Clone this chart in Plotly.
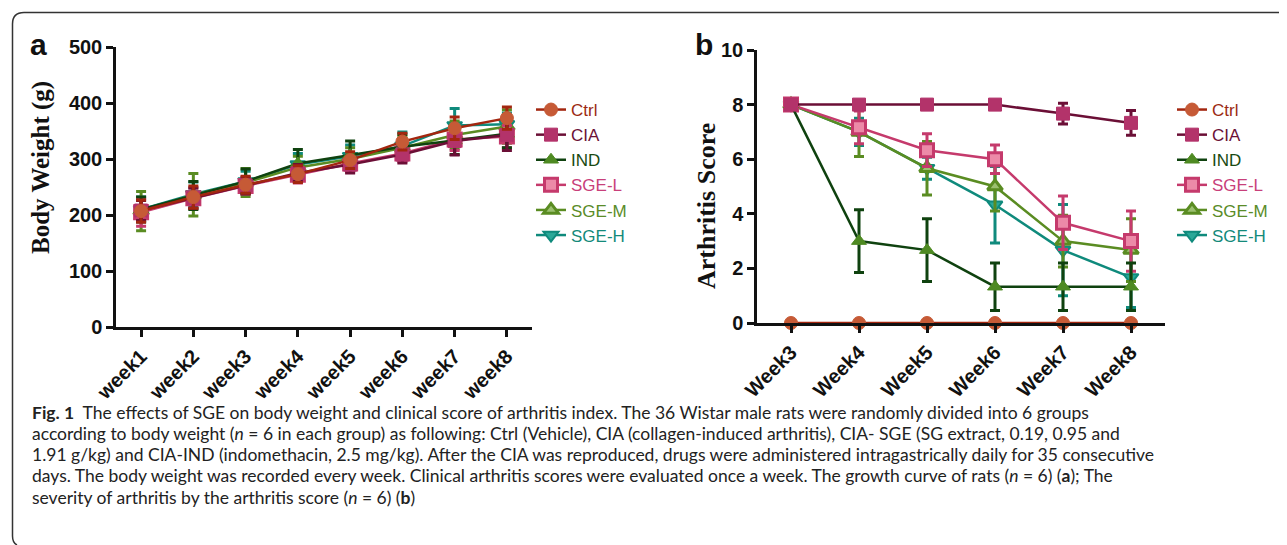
import plotly.graph_objects as go

W, H = 1287, 545
OX, OY = 8, 8  # page body offset compensation

groups = ["Ctrl", "CIA", "IND", "SGE-L", "SGE-M", "SGE-H"]

# Panel a: body weight (g)
weeks_a = ["week1", "week2", "week3", "week4", "week5", "week6", "week7", "week8"]
bw_ctrl = [207, 232, 254, 273, 298, 331, 355, 373]
bw_cia = [208, 230, 253, 275, 290, 308, 332, 343]
bw_ind = [210, 235, 260, 292, 307, 322, 333, 345]
bw_sgel = [205, 230, 252, 272, 292, 310, 335, 340]
bw_sgem = [207, 236, 258, 285, 300, 320, 343, 358]
bw_sgeh = [210, 237, 260, 290, 305, 323, 360, 362]
bw_ctrl_err = [20, 20, 15, 15, 15, 15, 20, 20]
bw_cia_err = [18, 18, 15, 15, 15, 15, 25, 28]
bw_ind_err = [22, 25, 22, 25, 25, 22, 25, 25]
bw_sgel_err = [25, 18, 15, 15, 15, 15, 20, 20]
bw_sgem_err = [35, 38, 25, 20, 20, 20, 25, 30]
bw_sgeh_err = [22, 22, 18, 20, 20, 25, 30, 20]

# Panel b: arthritis score
weeks_b = ["Week3", "Week4", "Week5", "Week6", "Week7", "Week8"]
as_ctrl = [0, 0, 0, 0, 0, 0]
as_cia = [8, 8, 8, 8, 7.67, 7.33]
as_ind = [8, 3, 2.67, 1.33, 1.33, 1.33]
as_sgel = [8, 7.17, 6.33, 6, 3.67, 3]
as_sgem = [8, 7, 5.67, 5, 3, 2.67]
as_sgeh = [8, 7, 5.67, 4.33, 2.67, 1.67]
as_ctrl_err = [0, 0, 0, 0, 0, 0]
as_cia_err = [0, 0, 0, 0, 0.38, 0.45]
as_ind_err = [0, 1.15, 1.15, 0.87, 0.87, 0.87]
as_sgel_err = [0, 0.6, 0.6, 0.52, 0.98, 1.1]
as_sgem_err = [0, 0.9, 0.98, 0.9, 0.95, 1.15]
as_sgeh_err = [0, 0.5, 0.4, 1.4, 1.67, 1.1]

styles = {
    "Ctrl": dict(line="#a3260f", symbol="circle", fill="#c65a36", mline="#c65a36", mw=1, text="#9b2a12"),
    "CIA": dict(line="#6b0f36", symbol="square", fill="#b3336a", mline="#b3336a", mw=1, text="#6b0f36"),
    "IND": dict(line="#0f420f", symbol="triangle-up", fill="#4e8a22", mline="#4e8a22", mw=1, text="#1a4a12"),
    "SGE-L": dict(line="#c53a6c", symbol="square", fill="#ec8aa8", mline="#c53a6c", mw=3, text="#c8407a"),
    "SGE-M": dict(line="#5a8c22", symbol="triangle-up", fill="#9cc070", mline="#5a8c22", mw=3, text="#5a8c28"),
    "SGE-H": dict(line="#0f8a7c", symbol="triangle-down", fill="#2aa898", mline="#0f8a7c", mw=2, text="#138a7a"),
}

a_vals = dict(zip(groups, [bw_ctrl, bw_cia, bw_ind, bw_sgel, bw_sgem, bw_sgeh]))
a_errs = dict(zip(groups, [bw_ctrl_err, bw_cia_err, bw_ind_err, bw_sgel_err, bw_sgem_err, bw_sgeh_err]))
b_vals = dict(zip(groups, [as_ctrl, as_cia, as_ind, as_sgel, as_sgem, as_sgeh]))
b_errs = dict(zip(groups, [as_ctrl_err, as_cia_err, as_ind_err, as_sgel_err, as_sgem_err, as_sgeh_err]))

draw_order = ["SGE-H", "SGE-M", "SGE-L", "IND", "CIA", "Ctrl"]

fig = go.Figure()

for panel, xs, vals, errs, xa, ya, leg in [
    ("a", weeks_a, a_vals, a_errs, "x", "y", "legend"),
    ("b", weeks_b, b_vals, b_errs, "x2", "y2", "legend2"),
]:
    for g in draw_order:
        s = styles[g]
        fig.add_trace(go.Scatter(
            x=xs, y=vals[g], xaxis=xa, yaxis=ya,
            mode="lines+markers",
            name=f"<span style='color:{s['text']}'>{g}</span>",
            legend=leg, legendrank=groups.index(g) + 1,
            line=dict(color=s["line"], width=2.5),
            marker=dict(symbol=s["symbol"], size=13, color=s["fill"],
                        line=dict(color=s["mline"], width=s["mw"])),
            error_y=dict(type="data", array=errs[g], visible=True,
                         color=s["line"], thickness=3, width=5),
            cliponaxis=False,
        ))

def px_x(p):
    return (p - OX) / W

def px_y(p):
    return 1 - (p - OY) / H

tickfont = dict(family="Liberation Sans, Arial", size=20, color="#111", weight="bold")
axis_common = dict(showline=True, linecolor="#111", linewidth=2.5, ticks="outside",
                   ticklen=7, tickwidth=2.5, tickcolor="#111", showgrid=False,
                   zeroline=False, tickfont=tickfont, automargin=False)

fig.update_layout(
    width=W, height=H,
    margin=dict(l=0, r=0, t=0, b=0, pad=0, autoexpand=False),
    paper_bgcolor="white", plot_bgcolor="white",
    xaxis=dict(domain=[px_x(116), px_x(532)], anchor="y", type="category",
               range=[-0.48, 7.48], tickangle=-45, **axis_common),
    yaxis=dict(domain=[px_y(327), px_y(47)], anchor="x", range=[0, 500],
               tickvals=[0, 100, 200, 300, 400, 500], **axis_common),
    xaxis2=dict(domain=[px_x(757), px_x(1165)], anchor="y2", type="category",
                range=[-0.5, 5.5], tickangle=-45, **axis_common),
    yaxis2=dict(domain=[px_y(323), px_y(50)], anchor="x2", range=[0, 10],
                tickvals=[0, 2, 4, 6, 8, 10], **axis_common),
    legend=dict(x=px_x(531), y=px_y(92), xanchor="left", yanchor="top",
                font=dict(family="Liberation Sans, Arial", size=17),
                bgcolor="rgba(0,0,0,0)", tracegroupgap=2, itemwidth=30),
    legend2=dict(x=px_x(1172), y=px_y(92), xanchor="left", yanchor="top",
                 font=dict(family="Liberation Sans, Arial", size=17),
                 bgcolor="rgba(0,0,0,0)", tracegroupgap=2, itemwidth=30),
    showlegend=True,
)

annotations = [
    dict(text="a", x=px_x(38), y=px_y(45), font=dict(family="Liberation Sans, Arial", size=30, color="#111", weight="bold")),
    dict(text="b", x=px_x(704), y=px_y(44), font=dict(family="Liberation Sans, Arial", size=30, color="#111", weight="bold")),
    dict(text="Body Weight (g)", x=px_x(41), y=px_y(168), textangle=-90,
         font=dict(family="Liberation Serif, Times New Roman", size=25, color="#111", weight="bold")),
    dict(text="Arthritis Score", x=px_x(706), y=px_y(206), textangle=-90,
         font=dict(family="Liberation Serif, Times New Roman", size=26, color="#111", weight="bold")),
]
for a in annotations:
    a.update(xref="paper", yref="paper", showarrow=False, xanchor="center", yanchor="middle")

caption_lines = [
    "<b>Fig. 1</b>  The effects of SGE on body weight and clinical score of arthritis index. The 36 Wistar male rats were randomly divided into 6 groups",
    "according to body weight (<i>n</i> = 6 in each group) as following: Ctrl (Vehicle), CIA (collagen-induced arthritis), CIA- SGE (SG extract, 0.19, 0.95 and",
    "1.91 g/kg) and CIA-IND (indomethacin, 2.5 mg/kg). After the CIA was reproduced, drugs were administered intragastrically daily for 35 consecutive",
    "days. The body weight was recorded every week. Clinical arthritis scores were evaluated once a week. The growth curve of rats (<i>n</i> = 6) (<b>a</b>); The",
    "severity of arthritis by the arthritis score (<i>n</i> = 6) (<b>b</b>)",
]
cap_y = [412, 433, 454, 475, 497]
for line, yy in zip(caption_lines, cap_y):
    annotations.append(dict(text=line, x=px_x(30), y=px_y(yy), xref="paper", yref="paper",
                            showarrow=False, xanchor="left", yanchor="middle",
                            font=dict(family="Lato, Open Sans", size=17.5, color="#222")))

fig.update_layout(annotations=annotations)

fig.add_shape(type="path", xref="paper", yref="paper",
              path=f"M {px_x(1300)},{px_y(12.5)} L {px_x(24)},{px_y(12.5)} Q {px_x(12.5)},{px_y(12.5)} {px_x(12.5)},{px_y(24)} L {px_x(12.5)},{px_y(536)} Q {px_x(12.5)},{px_y(543)} {px_x(17)},{px_y(545)}",
              line=dict(color="#333", width=1.5))

fig.write_html("out.html")
